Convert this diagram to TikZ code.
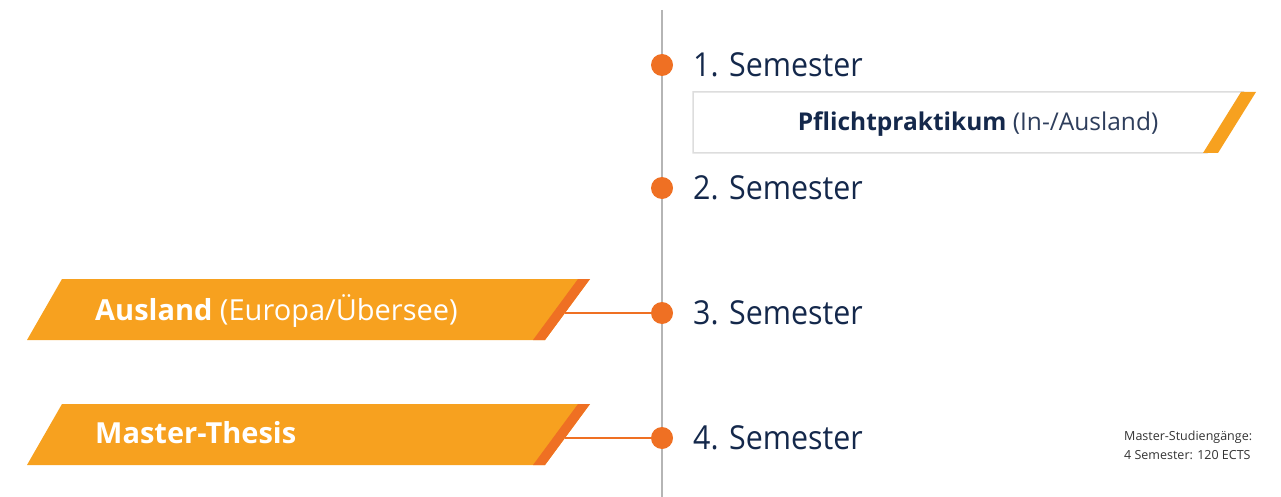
\documentclass[tikz,border=0pt]{standalone}
\usepackage{fontspec}
\setmainfont{Open Sans}
\newfontfamily\semfont{Open Sans}[FakeStretch=0.92]
\definecolor{navy}{HTML}{14284B}
\definecolor{lorange}{HTML}{F7A11F}
\definecolor{dorange}{HTML}{EF7023}
\definecolor{lgray}{HTML}{B5B5B5}
\definecolor{bgray}{HTML}{DDDDDD}
\definecolor{ngray}{HTML}{2E3E5C}
\definecolor{tgray}{HTML}{333333}
\begin{document}
\begin{tikzpicture}[x=1pt,y=-1pt,
  dot/.style={circle,fill=dorange,inner sep=0pt,minimum size=22pt},
  sem/.style={anchor=base west,text=navy,font=\semfont\fontsize{33}{40}\selectfont,inner sep=0pt},
  bannertext/.style={anchor=base west,text=white,font=\fontsize{29}{34}\selectfont,inner sep=0pt},
  connector/.style={dorange,line width=2.5pt}]
\useasboundingbox (0,0) rectangle (1281,497);
\coordinate (top) at (662,10);
\coordinate (bot) at (662,497);
\draw[lgray,line width=2.5pt] (top) -- (bot);
% Pflichtpraktikum box
\filldraw[fill=white,draw=bgray,line width=1.5pt] (693,92) -- (1243,92) -- (1207,153) -- (693,153) -- cycle;
\fill[lorange] (1241,92) -- (1256,92) -- (1218,153) -- (1203,153) -- cycle;
\node[anchor=base,inner sep=0pt,font=\fontsize{24.5}{28}\selectfont,text=ngray] (pf) at (978,131)
  {\textcolor{navy}{\textbf{Pflichtpraktikum}} (In-/Ausland)};
% banners
\fill[lorange] (62,279) -- (590,279) -- (545,340) -- (27,340) -- cycle;
\fill[dorange] (578,279) -- (590,279) -- (545,340) -- (533,340) -- cycle;
\fill[lorange] (62,404) -- (590,404) -- (545,465) -- (27,465) -- cycle;
\fill[dorange] (578,404) -- (590,404) -- (545,465) -- (533,465) -- cycle;
\coordinate (a3) at (565,313);
\coordinate (a4) at (565,438);
\foreach \i/\y in {1/65,2/188,3/313,4/438} {
  \node[dot] (d\i) at (662,\y) {};
  \node[sem] (s\i) at (693,\y+11.5) {\i. Semester};
}
\draw[connector] (a3) -- (d3.west);
\draw[connector] (a4) -- (d4.west);
\node[bannertext] (t3) at (95,320) {\textbf{Ausland} (Europa/Übersee)};
\node[bannertext] (t4) at (95,443) {\textbf{Master-Thesis}};
\node[anchor=north west,align=left,inner sep=0pt,font=\fontsize{12.5}{19}\selectfont,text=tgray] (note) at (1124,431)
  {Master-Studiengänge:\\4 Semester: 120 ECTS};
\end{tikzpicture}
\end{document}
